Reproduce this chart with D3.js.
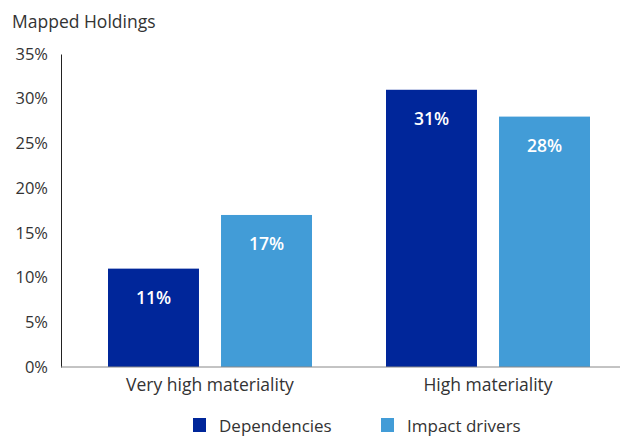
<!DOCTYPE html>
<html>
<head>
<meta charset="utf-8">
<script src="https://cdn.jsdelivr.net/npm/d3@7"></script>
<style>
  body { margin: 0; background: #fff; }
  text { font-family: "Open Sans", sans-serif; }
</style>
</head>
<body>
<script>
const w = 625, h = 437;
const categories = ['Very high materiality', 'High materiality'];
const seriesNames = ['Dependencies', 'Impact drivers'];
const dependencies = [11, 31];
const impactDrivers = [17, 28];
const yTicks = [0, 5, 10, 15, 20, 25, 30, 35];
const colors = ['#00269a', '#429cd7'];

const rows = categories.map((c, i) => ({ cat: c, vals: [dependencies[i], impactDrivers[i]] }));

const margin = { left: 61 };

const svg = d3.select('body').append('svg')
    .attr('width', w)
    .attr('height', h);

const y = d3.scaleLinear().domain([0, 35]).range([367, 54]);
const x0 = d3.scaleBand().domain(categories).range([71, 627]);
const x1 = d3.scaleBand().domain(seriesNames).range([37, 241]).paddingInner(0.195).paddingOuter(0);

svg.append('text')
    .attr('x', 12).attr('y', 28)
    .attr('font-size', 17.5).attr('fill', '#333')
    .text('Mapped Holdings');

// y axis
const yAxis = svg.append('g')
    .attr('transform', `translate(${margin.left},0)`)
    .call(d3.axisLeft(y).tickValues(yTicks).tickSize(0).tickPadding(13).tickFormat(d => d + '%'));
yAxis.select('.domain').attr('stroke', '#222');
yAxis.selectAll('text').attr('font-size', 16.5).attr('fill', '#333').attr('font-family', '"Open Sans", sans-serif');

// bars
const groups = svg.selectAll('g.grp')
    .data(rows)
    .join('g')
    .attr('class', 'grp')
    .attr('transform', d => `translate(${x0(d.cat)},0)`);

groups.selectAll('rect')
    .data(d => d.vals.map((v, i) => ({ key: seriesNames[i], v, i })))
    .join('rect')
    .attr('x', d => x1(d.key))
    .attr('width', x1.bandwidth())
    .attr('y', d => y(d.v))
    .attr('height', d => y(0) - y(d.v))
    .attr('fill', d => colors[d.i]);

groups.selectAll('text.val')
    .data(d => d.vals.map((v, i) => ({ key: seriesNames[i], v, i })))
    .join('text')
    .attr('class', 'val')
    .attr('x', d => x1(d.key) + x1.bandwidth() / 2)
    .attr('y', d => y(d.v) + 35)
    .attr('text-anchor', 'middle')
    .attr('font-size', 17.5)
    .attr('font-weight', 600)
    .attr('fill', '#fff')
    .text(d => d.v + '%');

// x axis
const xAxis = svg.append('g')
    .attr('transform', 'translate(0,367)')
    .call(d3.axisBottom(x0).tickSize(0).tickPadding(12));
xAxis.select('.domain').attr('stroke', '#888').attr('d', `M${margin.left},0H${w - 5}`);
xAxis.selectAll('text').attr('font-size', 17.5).attr('fill', '#333').attr('font-family', '"Open Sans", sans-serif');

// legend (nudged up a little so descenders stay inside the frame)
const legendX = [193, 381];
const legend = svg.selectAll('g.leg')
    .data(seriesNames)
    .join('g')
    .attr('class', 'leg')
    .attr('transform', (d, i) => `translate(${legendX[i]},418)`);
legend.append('rect').attr('width', 13).attr('height', 14).attr('fill', (d, i) => colors[i]);
legend.append('text')
    .attr('x', 26).attr('y', 13.5)
    .attr('font-size', 17).attr('fill', '#333')
    .text(d => d);
</script>
</body>
</html>
